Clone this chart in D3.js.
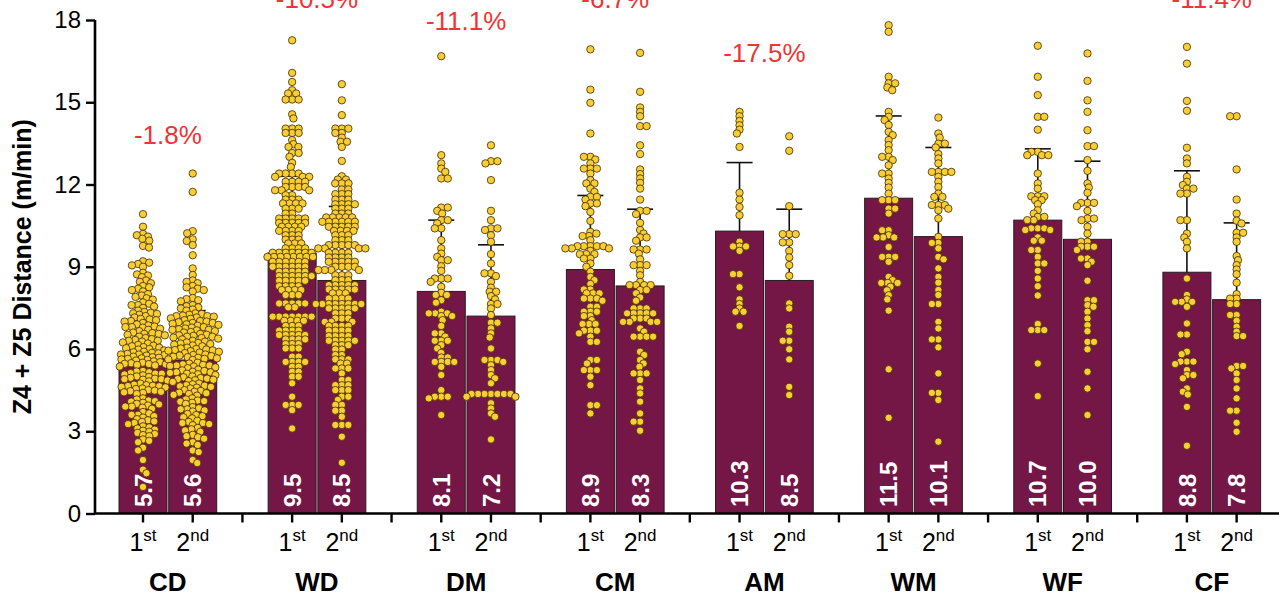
<!DOCTYPE html>
<html><head><meta charset="utf-8">
<script src="https://cdn.jsdelivr.net/npm/d3@7"></script>
<style>html,body{margin:0;padding:0;background:#fff;}svg{display:block;font-family:"Liberation Sans",Arial,sans-serif;}</style>
</head><body>
<svg id="c" width="1279" height="595"></svg>
<script>
const categories = ["CD","WD","DM","CM","AM","WM","WF","CF"];
const halves = [["1","st"],["2","nd"]];
const means1 = [5.7,9.5,8.1,8.9,10.3,11.5,10.7,8.8];
const means2 = [5.6,8.5,7.2,8.3,8.5,10.1,10.0,7.8];
const sd1 = [1.9,2.8,2.6,2.7,2.5,3.0,2.6,3.7];
const sd2 = [1.8,2.7,2.6,2.8,2.6,3.25,2.85,2.8];
const pctChange = ["-1.8%","-10.5%","-11.1%","-6.7%","-17.5%","-12.2%","-6.5%","-11.4%"];
// label heights (y units); WM and WF labels lie above the visible plot in the reference
const pctLabelAt = [13.47,18.43,17.63,18.43,16.47,null,null,18.43];
const yTicks = [0,3,6,9,12,15,18];

const cd1 = [10.92,10.46,10.1,10.15,10.2,9.95,10.02,9.7,9.76,9.0,9.05,9.1,9.15,9.2,8.62,8.68,8.72,8.78,8.4,8.45,8.5,8.1,8.15,8.2,8.25,8.3,7.8,7.85,7.9,7.95,8.0,7.5,7.55,7.6,7.6,7.65,7.7,7.2,7.25,7.28,7.3,7.32,7.35,7.4,6.95,7.0,7.02,7.05,7.08,7.1,7.15,6.7,6.74,6.78,6.8,6.8,6.82,6.86,6.9,6.45,6.5,6.52,6.55,6.55,6.58,6.6,6.65,6.2,6.24,6.27,6.3,6.3,6.33,6.36,6.4,5.95,5.98,6.0,6.03,6.05,6.07,6.1,6.12,6.15,5.72,5.74,5.76,5.78,5.8,5.8,5.82,5.84,5.86,5.88,5.9,5.58,5.6,5.62,5.64,5.66,5.68,5.7,5.55,5.36,5.4,5.42,5.44,5.45,5.46,5.48,5.5,5.52,5.0,5.04,5.07,5.1,5.1,5.12,5.15,5.18,5.2,4.82,4.85,4.88,4.9,4.9,4.92,4.95,4.98,4.56,4.6,4.62,4.64,4.65,4.66,4.68,4.7,4.74,4.36,4.4,4.42,4.44,4.46,4.48,4.5,4.54,4.0,4.04,4.08,4.1,4.12,4.16,4.2,3.82,3.86,3.9,3.9,3.94,3.98,3.5,3.55,3.6,3.6,3.65,3.7,3.26,3.3,3.34,3.36,3.4,3.44,3.02,3.06,3.1,3.14,3.18,2.82,2.86,2.9,2.94,2.98,2.6,2.65,2.7,2.3,2.4,1.95,1.6,1.47,0.97];
const cd2 = [12.4,11.73,10.22,10.3,9.94,10.0,9.79,9.42,8.94,8.7,8.4,8.45,8.5,8.1,8.15,8.2,8.25,8.3,7.74,7.78,7.82,7.86,7.4,7.44,7.48,7.52,7.56,7.6,7.1,7.12,7.15,7.18,7.2,7.2,7.22,7.25,7.28,7.3,6.85,6.88,6.9,6.92,6.95,6.95,6.98,7.0,7.02,7.05,6.6,6.62,6.65,6.68,6.7,6.7,6.72,6.75,6.78,6.8,6.35,6.38,6.4,6.42,6.45,6.45,6.48,6.5,6.52,6.55,6.1,6.13,6.16,6.18,6.2,6.22,6.24,6.27,6.3,5.85,5.87,5.9,5.92,5.94,5.95,5.96,5.98,6.0,6.02,6.05,5.6,5.62,5.64,5.66,5.68,5.7,5.72,5.74,5.76,5.78,5.8,5.3,5.33,5.36,5.38,5.4,5.4,5.42,5.44,5.47,5.5,5.05,5.08,5.1,5.13,5.15,5.15,5.17,5.2,5.22,5.25,4.8,4.83,4.86,4.88,4.9,4.92,4.94,4.97,5.0,4.56,4.59,4.62,4.64,4.66,4.68,4.71,4.74,4.3,4.33,4.36,4.39,4.41,4.44,4.47,4.5,4.0,4.04,4.08,4.1,4.12,4.16,4.2,3.72,3.76,3.8,3.8,3.84,3.88,3.47,3.51,3.55,3.59,3.63,3.22,3.26,3.3,3.3,3.34,3.38,2.98,3.03,3.07,3.12,2.73,2.78,2.82,2.87,2.5,2.55,2.6,2.24,2.3,1.95,1.84];
const wd1 = [17.26,16.07,15.74,15.44,15.32,15.32,15.10,15.10,15.10,14.56,14.41,14.04,14.04,14.04,13.88,13.88,13.88,13.62,13.47,13.37,13.37,13.15,13.15,13.01,12.79,12.64,12.40,12.40,12.40,12.40,12.28,12.28,12.28,12.10,12.10,12.10,12.10,11.91,11.91,11.91,11.91,11.79,11.79,11.79,11.61,11.61,11.45,11.45,11.45,11.31,11.31,11.31,11.31,11.12,11.12,11.12,10.94,10.94,10.76,10.76,10.76,10.76,10.76,10.60,10.60,10.60,10.60,10.60,10.46,10.46,10.46,10.46,10.31,10.31,10.31,10.31,10.15,10.15,10.15,9.99,9.99,9.99,9.85,9.85,9.85,9.67,9.67,9.67,9.67,9.51,9.51,9.51,9.51,9.51,9.51,9.51,9.36,9.36,9.36,9.36,9.36,9.36,9.36,9.36,9.18,9.18,9.18,9.18,9.18,9.18,9.00,9.00,9.00,9.00,9.00,9.00,8.82,8.82,8.82,8.82,8.82,8.66,8.66,8.66,8.66,8.66,8.66,8.49,8.49,8.49,8.49,8.49,8.29,8.29,8.29,8.29,8.15,8.15,8.15,8.15,7.97,7.97,7.97,7.66,7.66,7.66,7.66,7.66,7.52,7.52,7.18,7.18,7.18,7.18,7.18,7.18,7.18,7.03,7.03,7.03,7.03,6.84,6.84,6.84,6.67,6.67,6.67,6.67,6.51,6.51,6.51,6.51,6.51,6.35,6.35,6.35,6.35,6.18,6.18,6.18,6.02,6.02,6.02,5.72,5.72,5.53,5.53,5.53,5.53,5.35,5.35,5.17,5.17,4.99,4.99,4.75,4.26,3.96,3.96,3.96,3.77,3.10];
const wd2 = [15.66,15.07,14.53,14.04,14.04,14.04,13.88,13.88,13.71,13.56,13.56,13.37,12.86,12.30,12.18,12.18,12.04,12.04,12.04,11.82,11.82,11.65,11.65,11.65,11.45,11.45,11.45,11.28,11.28,11.28,11.28,11.12,11.12,11.12,10.94,10.94,10.94,10.80,10.80,10.80,10.80,10.80,10.64,10.64,10.64,10.64,10.64,10.64,10.46,10.46,10.46,10.46,10.46,10.31,10.31,10.31,10.31,10.15,10.15,10.15,9.97,9.97,9.97,9.79,9.79,9.79,9.79,9.79,9.67,9.67,9.67,9.67,9.51,9.51,9.51,9.51,9.34,9.34,9.34,9.34,9.18,9.18,9.18,9.18,9.18,9.00,9.00,9.00,9.00,8.88,8.88,8.88,8.88,8.69,8.69,8.69,8.51,8.51,8.51,8.33,8.33,8.33,8.33,8.33,8.17,8.17,8.17,8.17,8.17,8.03,8.03,8.03,7.84,7.84,7.84,7.84,7.64,7.64,7.64,7.64,7.64,7.64,7.64,7.64,7.48,7.48,7.48,7.48,7.48,7.30,7.30,7.30,7.11,7.11,7.11,6.99,6.99,6.99,6.84,6.84,6.84,6.84,6.67,6.67,6.67,6.67,6.47,6.47,6.47,6.47,6.30,6.30,6.30,6.30,6.30,6.14,6.14,6.14,5.98,5.98,5.78,5.78,5.62,5.62,5.62,5.47,5.47,5.29,5.29,5.29,5.11,4.87,4.87,4.68,4.68,4.68,4.50,4.50,4.50,4.26,4.26,4.14,3.96,3.96,3.75,3.75,3.53,3.23,3.23,3.23,2.80,1.85];
const dm1 = [16.68,13.07,12.77,12.58,12.46,12.22,12.22,11.16,11.16,11.04,10.94,10.70,10.70,10.58,10.40,10.40,9.97,9.67,9.48,9.36,9.24,9.24,9.02,8.85,8.57,8.57,8.57,8.45,8.27,8.05,7.97,7.97,7.78,7.69,7.36,7.30,7.30,7.30,7.20,7.20,7.05,6.84,6.57,6.57,6.45,6.30,6.30,6.30,6.14,6.02,5.86,5.69,5.69,5.53,5.53,5.53,5.53,5.35,5.05,4.50,4.26,4.26,4.26,4.20,3.59];
const dm2 = [13.43,12.85,12.85,12.77,12.16,11.04,10.70,10.40,10.40,10.34,10.15,9.91,9.46,9.12,8.76,8.76,8.66,8.45,8.24,8.09,8.09,7.93,7.81,7.64,7.64,7.48,7.24,6.96,6.96,6.75,6.57,6.42,6.02,5.60,5.60,5.60,5.53,5.41,5.23,5.05,4.93,4.75,4.36,4.36,4.36,4.36,4.36,4.36,4.36,4.26,4.26,4.02,3.83,3.65,3.53,2.70];
const cm1 = [16.93,15.46,14.98,13.86,13.01,13.01,12.91,12.77,12.58,12.58,12.58,12.40,12.16,12.04,12.04,11.85,11.73,11.55,11.55,11.45,11.31,11.31,11.21,11.00,10.67,10.27,10.21,10.12,10.12,9.97,9.75,9.75,9.75,9.75,9.75,9.67,9.67,9.67,9.58,9.46,9.46,9.46,9.30,9.30,9.12,9.00,8.82,8.63,8.51,8.37,8.17,8.17,8.03,8.03,8.03,7.84,7.84,7.84,7.76,7.54,7.54,7.36,7.36,7.36,7.20,7.20,7.05,6.91,6.91,6.91,6.67,6.67,6.67,6.57,6.45,6.26,6.26,5.60,5.60,5.47,5.23,5.23,5.23,4.99,4.68,3.95,3.95,3.65];
const cm2 = [16.80,15.38,14.81,14.65,14.49,14.13,14.13,13.43,13.11,12.55,12.38,12.22,12.06,11.85,11.45,11.04,11.04,10.92,10.60,10.34,10.21,10.07,10.07,9.95,9.63,9.63,9.63,9.48,9.27,9.06,9.06,9.06,8.85,8.69,8.45,8.33,8.33,8.33,8.33,8.15,8.15,8.03,7.88,7.76,7.48,7.48,7.48,7.30,7.30,7.30,7.30,7.30,7.11,7.11,7.11,6.99,6.99,6.99,6.99,6.75,6.63,6.45,6.45,6.45,6.45,5.90,5.78,5.60,5.47,5.35,5.11,5.11,5.11,4.87,4.56,4.38,4.08,3.65,3.35,3.35,3.02];
const am1 = [14.65,14.49,14.32,14.16,14.0,13.86,13.37,11.7,11.45,11.18,10.88,9.91,9.74,9.74,9.74,9.58,8.73,8.73,8.25,7.81,7.64,7.48,7.36,7.36,6.84];
const am2 = [13.76,13.23,11.21,10.19,10.19,10.19,9.89,9.89,9.58,9.34,9.06,8.67,7.66,7.48,6.81,6.63,6.30,6.30,5.99,5.62,4.62,4.32];
const wm1 = [17.81,17.57,15.93,15.69,15.69,15.54,15.44,14.65,14.47,14.35,14.17,13.92,13.80,13.62,13.44,13.25,13.01,13.01,12.89,12.70,12.40,12.40,12.22,12.06,11.89,11.67,11.43,11.43,11.43,11.12,11.12,10.94,10.33,10.33,10.15,10.07,10.07,10.07,9.72,9.36,9.36,9.36,9.18,8.63,8.51,8.41,8.41,8.41,8.27,8.14,7.96,7.81,7.40,5.26,3.49];
const wm2 = [14.44,13.86,13.71,13.49,13.49,13.35,13.11,12.95,12.77,12.46,12.46,12.46,12.46,12.28,12.10,11.91,11.67,11.55,11.55,11.25,11.25,11.25,11.12,11.06,10.76,10.09,9.87,9.87,9.67,9.36,9.27,8.94,8.63,8.42,8.15,7.97,7.64,7.64,6.99,6.75,6.35,6.35,6.06,5.11,4.40,4.40,4.14,2.62];
const wf1 = [17.06,15.93,15.26,14.47,14.47,14.0,13.19,13.19,13.07,13.07,13.07,12.40,12.04,11.85,11.57,11.57,11.57,11.43,11.43,11.28,11.06,10.94,10.82,10.82,10.70,10.70,10.40,10.40,10.40,10.34,10.34,10.07,9.95,9.95,9.61,9.61,9.36,9.12,9.12,8.85,8.57,8.29,7.95,6.91,6.69,6.69,6.69,5.47,4.28];
const wf2 = [16.78,15.78,15.07,14.65,13.98,13.40,13.40,12.89,12.50,12.04,11.89,11.70,11.33,11.33,11.33,11.21,11.04,10.76,10.76,10.70,10.46,10.21,9.91,9.91,9.73,9.73,9.73,9.61,9.30,9.30,9.18,9.06,8.49,7.78,7.78,7.60,7.54,7.36,7.11,6.87,6.65,6.26,6.26,5.99,5.17,4.56,3.59];
const cf1 = [17.02,16.41,15.05,14.69,13.34,12.95,12.77,12.28,12.10,11.98,11.85,11.85,11.67,11.67,10.70,10.70,10.21,10.07,9.91,9.67,8.57,7.97,7.81,7.72,7.72,7.72,7.54,6.93,6.53,6.53,5.90,5.81,5.54,5.54,5.54,5.45,5.23,5.05,5.05,4.93,4.56,4.44,4.34,3.89,2.47];
const cf2 = [14.49,14.49,12.55,11.45,10.94,10.68,10.58,10.24,10.24,10.07,9.91,9.39,9.24,9.06,8.90,8.73,8.42,8.00,7.84,7.84,7.64,7.64,7.24,7.24,7.03,6.81,6.63,6.47,6.47,5.38,5.38,5.29,5.11,4.87,4.56,4.20,3.75,3.75,3.31,2.98];
const points1 = [cd1,wd1,dm1,cm1,am1,wm1,wf1,cf1];
const points2 = [cd2,wd2,dm2,cm2,am2,wm2,wf2,cf2];

// ---------- drawing ----------
const W = 1279, H = 595;
const svg = d3.select("#c");
const BAR = "#741646", DOT = "#FACD35", RED = "#EE3434";

const slotKeys = [];
categories.forEach(c => { slotKeys.push(c+"|0", c+"|1", c+"|gap"); });
const x = d3.scaleBand().domain(slotKeys).range([118.15, 118.15 + 24*49.71]).padding(0);
const bw = x.bandwidth();
const cx = k => x(k) + bw/2;
const y = d3.scaleLinear().domain([0,18]).range([513.5, 20]);

const groups = [];
categories.forEach((c,i) => {
  groups.push({cat:c, i, h:0, key:c+"|0", mean:means1[i], sd:sd1[i], pts:points1[i]});
  groups.push({cat:c, i, h:1, key:c+"|1", mean:means2[i], sd:sd2[i], pts:points2[i]});
});

// bars
svg.append("g").selectAll("rect").data(groups).join("rect")
  .attr("x", d => cx(d.key) - 24).attr("width", 48)
  .attr("y", d => y(d.mean)).attr("height", d => y(0) - y(d.mean))
  .attr("fill", BAR).attr("stroke", "#2a1a20").attr("stroke-width", 1);

// error bars
const eg = svg.append("g").attr("stroke", "#111").attr("stroke-width", 1.6);
groups.forEach(d => {
  const X = cx(d.key);
  eg.append("line").attr("x1", X).attr("x2", X).attr("y1", y(d.mean)).attr("y2", y(d.mean + d.sd));
  eg.append("line").attr("x1", X - 13).attr("x2", X + 13).attr("y1", y(d.mean + d.sd)).attr("y2", y(d.mean + d.sd));
});

// beeswarm (deterministic)
const DX = 6.5, DY = 4.2;
function swarm(vals, centerX) {
  const pts = vals.map(v => ({v, y: y(v)})).sort((a,b) => a.y - b.y);
  const placed = [];
  let flip = 1;
  for (const p of pts) {
    const nb = placed.filter(q => Math.abs(q.y - p.y) < DY);
    const cands = [0];
    for (const q of nb) {
      const t = (q.y - p.y)/DY;
      const dx = DX*Math.sqrt(Math.max(0, 1 - t*t));
      cands.push(q.x + dx + 1e-6, q.x - dx - 1e-6);
    }
    cands.sort((a,b) => (Math.abs(a) - Math.abs(b)) || (flip*(b - a)));
    p.x = 0;
    for (const c of cands) {
      if (nb.every(q => ((c - q.x)/DX)**2 + ((p.y - q.y)/DY)**2 >= 1 - 1e-9)) { p.x = c; break; }
    }
    flip = -flip;
    placed.push(p);
  }
  return placed.map(p => ({x: p.x + centerX, y: p.y}));
}
const dg = svg.append("g");
groups.forEach(d => {
  const s = swarm(d.pts, cx(d.key));
  dg.append("g").selectAll("circle").data(s).join("circle")
    .attr("cx", p => p.x).attr("cy", p => p.y).attr("r", 3.7)
    .attr("fill", DOT).attr("stroke", "#3a2c00").attr("stroke-width", 0.8);
});

// bar value labels
svg.append("g").selectAll("text").data(groups).join("text")
  .attr("transform", d => `translate(${cx(d.key)},507) rotate(-90)`)
  .attr("dy", "0.36em").attr("text-anchor", "start")
  .attr("fill", "#fff").attr("font-size", 24).attr("font-weight", "bold")
  .text(d => d.mean.toFixed(1));

// percent labels
const pctData = categories.map((c,i) => ({c, i})).filter(d => pctLabelAt[d.i] !== null);
svg.append("g").selectAll("text").data(pctData).join("text")
  .attr("x", d => (cx(d.c+"|0") + cx(d.c+"|1"))/2)
  .attr("y", d => y(pctLabelAt[d.i]))
  .attr("text-anchor", "middle").attr("fill", RED).attr("font-size", 26)
  .text(d => pctChange[d.i]);

// y axis
const ya = svg.append("g").attr("transform", "translate(95,0)")
  .call(d3.axisLeft(y).tickValues(yTicks).tickSize(9).tickPadding(5).tickFormat(d3.format("d")));
ya.select(".domain").attr("stroke", "#000").attr("stroke-width", 2.6).attr("d", `M0,${y(0)}V${y(18)}`);
ya.selectAll(".tick line").attr("stroke", "#000").attr("stroke-width", 2.4);
ya.selectAll(".tick text").attr("font-size", 24).attr("fill", "#000").attr("font-family", "Liberation Sans, Arial, sans-serif");

// x axis
const xa = svg.append("g");
xa.append("line").attr("x1", 94).attr("x2", W).attr("y1", y(0)).attr("y2", y(0)).attr("stroke", "#000").attr("stroke-width", 2.6);
xa.selectAll("line.t").data(slotKeys).join("line").attr("class", "t")
  .attr("x1", k => cx(k)).attr("x2", k => cx(k)).attr("y1", y(0)).attr("y2", y(0) + 9)
  .attr("stroke", "#000").attr("stroke-width", 2.4);
const tl = xa.selectAll("text.h").data(groups).join("text").attr("class", "h")
  .attr("x", d => cx(d.key)).attr("y", 551).attr("text-anchor", "middle").attr("font-size", 25).attr("fill", "#000");
tl.append("tspan").text(d => halves[d.h][0]);
tl.append("tspan").attr("dy", -10).attr("font-size", 17).text(d => halves[d.h][1]);
xa.selectAll("text.c").data(categories).join("text").attr("class", "c")
  .attr("x", c => (cx(c+"|0") + cx(c+"|1"))/2).attr("y", 591)
  .attr("text-anchor", "middle").attr("font-size", 26).attr("font-weight", "bold").attr("fill", "#000")
  .text(c => c);

// y title
svg.append("text").attr("transform", `translate(31,${(y(0)+y(18))/2}) rotate(-90)`)
  .attr("text-anchor", "middle").attr("font-size", 25).attr("font-weight", "bold").attr("fill", "#000")
  .text("Z4 + Z5 Distance (m/min)");
</script>
</body></html>
